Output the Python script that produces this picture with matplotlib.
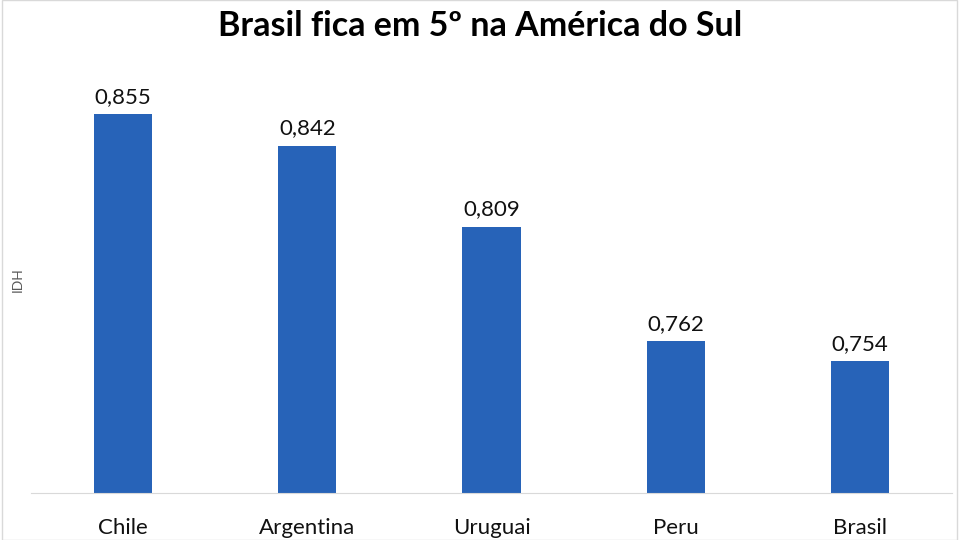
import matplotlib.pyplot as plt
from matplotlib.patches import Rectangle

plt.rcParams['font.family'] = ['Lato', 'DejaVu Sans']

paises = ['Chile', 'Argentina', 'Uruguai', 'Peru', 'Brasil']
idh = [0.855, 0.842, 0.809, 0.762, 0.754]
rotulos = ['0,855', '0,842', '0,809', '0,762', '0,754']

fig = plt.figure(figsize=(9.6, 5.4), dpi=100)
ax = fig.add_axes([31/960, 47/540, 921/960, 440/540])

x = range(len(paises))
barras = ax.bar(x, idh, width=0.315, color='#2763b8', zorder=2)
for b, r in zip(barras, rotulos):
    ax.text(b.get_x() + b.get_width()/2, b.get_height() + 0.003, r,
            ha='center', va='bottom', fontsize=16, color='#111111')

ax.set_xlim(-0.5, len(paises) - 0.5)
ax.set_ylim(0.70, 0.88)
ax.set_xticks(list(x))
ax.set_xticklabels(paises, fontsize=16, color='#111111')
ax.tick_params(axis='x', length=0, pad=18)
ax.set_yticks([])
for s in ['top', 'right', 'left']:
    ax.spines[s].set_visible(False)
ax.spines['bottom'].set_color('#d9d9d9')

fig.text(18/960, 1 - 280/540, 'IDH', rotation=90, ha='center', va='center',
         fontsize=10, color='#595959')
fig.text(0.5, 1 - 26/540, 'Brasil fica em 5º na América do Sul', ha='center',
         va='center', fontsize=24.5, fontweight='bold', color='#000000')

# moldura clara em volta
fig.patches.append(Rectangle((2/960, 0), 955/960, 1, transform=fig.transFigure,
                             fill=False, edgecolor='#d9d9d9', linewidth=1))

fig.savefig('out.png', dpi=100)
